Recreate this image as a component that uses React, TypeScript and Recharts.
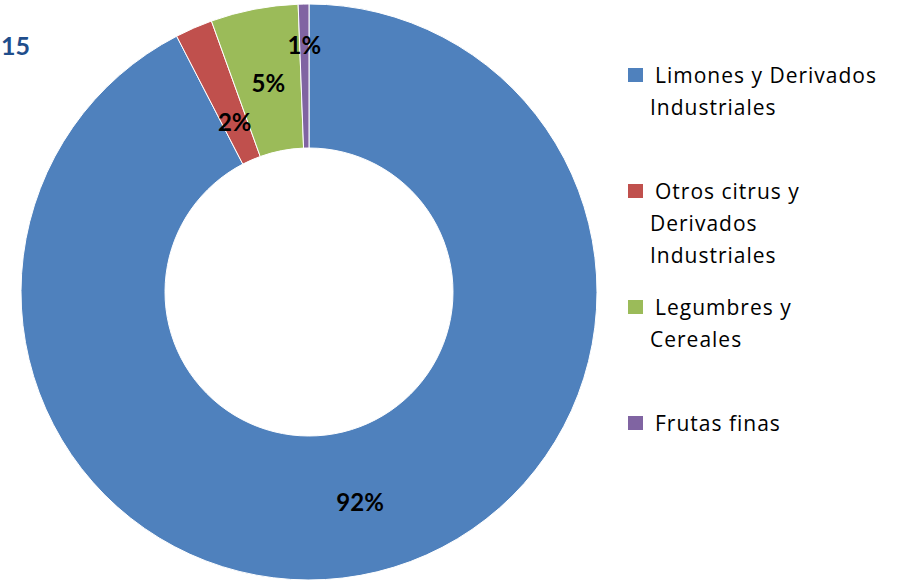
import React from "react";
import { PieChart, Pie, Cell, Legend } from "recharts";

const categories = [
  "Limones y Derivados Industriales",
  "Otros citrus y Derivados Industriales",
  "Legumbres y Cereales",
  "Frutas finas",
];
const shares = [92.4, 2.1, 4.9, 0.6];
const legendLines = [
  ["Limones y Derivados", "Industriales"],
  ["Otros citrus y", "Derivados", "Industriales"],
  ["Legumbres y", "Cereales"],
  ["Frutas finas"],
];
const colors = ["#4F81BD", "#C0504D", "#9BBB59", "#8064A2"];
const titleFragment = "15";

const labelRadiusFrac = [0.5, 0.29, 0.48, 0.72];
const FONT = "Lato, 'Open Sans', sans-serif";
const LEGEND_FONT = "'Open Sans', Lato, sans-serif";
const RADIAN = Math.PI / 180;

const data = categories.map((name, i) => ({ name, value: shares[i] }));

const renderLabel = (p: any) => {
  const { cx, cy, midAngle, innerRadius, outerRadius, percent, index } = p;
  const r = innerRadius + (outerRadius - innerRadius) * labelRadiusFrac[index];
  const x = cx + r * Math.cos(-midAngle * RADIAN);
  const y = cy + r * Math.sin(-midAngle * RADIAN);
  return (
    <text
      x={x}
      y={y}
      textAnchor="middle"
      dominantBaseline="central"
      fontFamily={FONT}
      fontWeight="bold"
      fontSize={24}
      fill="#000"
    >
      {Math.round(percent * 100) + "%"}
    </text>
  );
};

const renderLegend = () => (
  <div style={{ fontFamily: LEGEND_FONT, fontSize: 21, letterSpacing: 1, color: "#000" }}>
    {legendLines.map((lines, i) => (
      <div key={i} style={{ height: 116, position: "relative" }}>
        <div
          style={{
            position: "absolute",
            left: 0,
            top: 9,
            width: 15,
            height: 14,
            background: colors[i],
          }}
        />
        {lines.map((ln, j) => (
          <div
            key={j}
            style={{
              position: "absolute",
              left: j === 0 ? 27 : 22,
              top: j * 32,
              height: 32,
              lineHeight: "32px",
              whiteSpace: "nowrap",
            }}
          >
            {ln}
          </div>
        ))}
      </div>
    ))}
  </div>
);

export default function App() {
  return (
    <div style={{ position: "absolute", left: 0, top: 0, width: 901, height: 581, background: "#fff" }}>
      <PieChart width={901} height={581} margin={{ top: 0, right: 0, bottom: 0, left: 0 }}>
        <Pie
          data={data}
          dataKey="value"
          nameKey="name"
          cx={309}
          cy={292}
          innerRadius={144}
          outerRadius={288}
          startAngle={90}
          endAngle={-270}
          stroke="#fff"
          strokeWidth={1}
          label={renderLabel}
          labelLine={false}
          isAnimationActive={false}
        >
          {data.map((d, i) => (
            <Cell key={d.name} fill={colors[i]} />
          ))}
        </Pie>
        <Legend
          content={renderLegend}
          wrapperStyle={{ position: "absolute", left: 628, top: 59, width: 270 }}
        />
        <text
          x={1}
          y={45}
          textAnchor="start"
          dominantBaseline="central"
          fontFamily={FONT}
          fontWeight="bold"
          fontSize={25}
          fill="#1F4E8C"
        >
          {titleFragment}
        </text>
      </PieChart>
    </div>
  );
}
